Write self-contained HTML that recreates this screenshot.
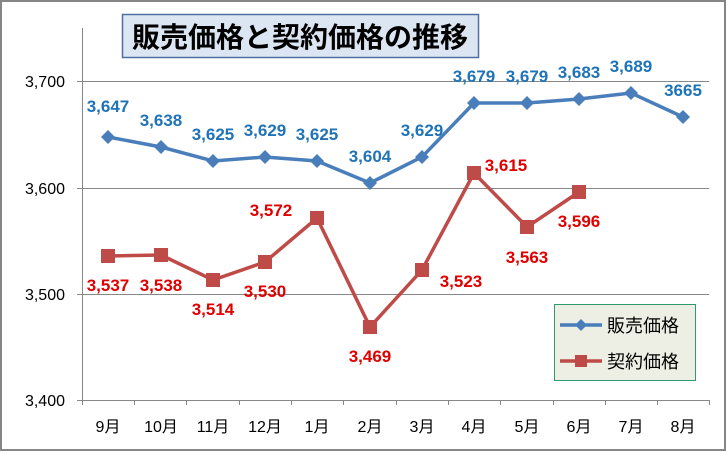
<!DOCTYPE html>
<html><head><meta charset="utf-8"><style>body{margin:0;background:#fff}svg{display:block}</style></head><body>
<svg width="727" height="452" xmlns="http://www.w3.org/2000/svg" font-family="Liberation Sans, Noto Sans CJK JP, sans-serif">
<rect x="1" y="1" width="724" height="449" fill="#fff" stroke="#868686" stroke-width="2"/>
<g stroke="#888" stroke-width="1">
<line x1="82" y1="81.5" x2="709" y2="81.5"/>
<line x1="82" y1="188.5" x2="709" y2="188.5"/>
<line x1="82" y1="294.5" x2="709" y2="294.5"/>
<line x1="82" y1="400.5" x2="709" y2="400.5"/>
<line x1="82.5" y1="28" x2="82.5" y2="400"/>
<line x1="77" y1="81.5" x2="82" y2="81.5"/><line x1="77" y1="188.5" x2="82" y2="188.5"/><line x1="77" y1="294.5" x2="82" y2="294.5"/><line x1="77" y1="400.5" x2="82" y2="400.5"/>
<path d="M134.5 400v5M186.5 400v5M239.5 400v5M291.5 400v5M343.5 400v5M396.5 400v5M448.5 400v5M500.5 400v5M553.5 400v5M605.5 400v5M657.5 400v5M709.5 400v5M82.5 400v5"/>
</g>
<g font-size="16" fill="#000" text-anchor="end">
<text x="65" y="87">3,700</text><text x="65" y="194">3,600</text><text x="65" y="300">3,500</text><text x="65" y="406">3,400</text>
</g>
<g font-size="16" fill="#000" text-anchor="middle">
<text x="108" y="432">9月</text><text x="161" y="432">10月</text><text x="213" y="432">11月</text><text x="265" y="432">12月</text><text x="317" y="432">1月</text><text x="370" y="432">2月</text><text x="422" y="432">3月</text><text x="474" y="432">4月</text><text x="527" y="432">5月</text><text x="579" y="432">6月</text><text x="631" y="432">7月</text><text x="683" y="432">8月</text>
</g>
<polyline fill="none" stroke="#4a7ebb" stroke-width="3.5" points="108,137 161,147 213,161 265,157 317,161 370,183 422,157 474,103 527,103 579,99 631,93 683,117"/>
<g fill="#4a7ebb">
<path d="M108 130l7 7-7 7-7-7z"/><path d="M161 140l7 7-7 7-7-7z"/><path d="M213 154l7 7-7 7-7-7z"/><path d="M265 150l7 7-7 7-7-7z"/><path d="M317 154l7 7-7 7-7-7z"/><path d="M370 176l7 7-7 7-7-7z"/><path d="M422 150l7 7-7 7-7-7z"/><path d="M474 96l7 7-7 7-7-7z"/><path d="M527 96l7 7-7 7-7-7z"/><path d="M579 92l7 7-7 7-7-7z"/><path d="M631 86l7 7-7 7-7-7z"/><path d="M683 110l7 7-7 7-7-7z"/>
</g>
<polyline fill="none" stroke="#be4b48" stroke-width="3.5" points="108,256 161,255 213,280 265,262 317,218 370,327 422,270 474,173 527,227 579,192"/>
<g fill="#be4b48">
<rect x="101" y="249" width="14" height="14"/><rect x="154" y="248" width="14" height="14"/><rect x="206" y="273" width="14" height="14"/><rect x="258" y="255" width="14" height="14"/><rect x="310" y="211" width="14" height="14"/><rect x="363" y="320" width="14" height="14"/><rect x="415" y="263" width="14" height="14"/><rect x="467" y="166" width="14" height="14"/><rect x="520" y="220" width="14" height="14"/><rect x="572" y="185" width="14" height="14"/>
</g>
<g font-size="17" font-weight="bold" fill="#1f73b7" text-anchor="middle">
<text x="108" y="112">3,647</text><text x="161" y="126">3,638</text><text x="213" y="140">3,625</text><text x="265" y="136">3,629</text><text x="317" y="140">3,625</text><text x="370" y="162">3,604</text><text x="422" y="136">3,629</text><text x="474" y="82">3,679</text><text x="527" y="82">3,679</text><text x="579" y="78">3,683</text><text x="631" y="72">3,689</text><text x="683" y="96">3665</text>
</g>
<g font-size="17" font-weight="bold" fill="#e00000" text-anchor="middle">
<text x="108" y="291">3,537</text><text x="161" y="291">3,538</text><text x="213" y="315">3,514</text><text x="265" y="297">3,530</text><text x="271" y="216">3,572</text><text x="370" y="362">3,469</text><text x="461" y="287">3,523</text><text x="506" y="171">3,615</text><text x="527" y="263">3,563</text><text x="579" y="227">3,596</text>
</g>
<rect x="122.5" y="14.5" width="356" height="43" fill="#dce6f2" stroke="#4f6fa0" stroke-width="1.5"/>
<text x="300" y="47" font-size="28" font-weight="bold" text-anchor="middle" fill="#000">販売価格と契約価格の推移</text>
<rect x="554.5" y="304.5" width="141" height="76" fill="#eeefe4" stroke="#2f9a70" stroke-width="1"/>
<line x1="560" y1="325" x2="602" y2="325" stroke="#4a7ebb" stroke-width="3.5"/><path d="M581 319l6 6-6 6-6-6z" fill="#4a7ebb"/>
<line x1="560" y1="361" x2="602" y2="361" stroke="#be4b48" stroke-width="3.5"/><rect x="575" y="355" width="12" height="12" fill="#be4b48"/>
<text x="607" y="332" font-size="18" fill="#000">販売価格</text>
<text x="607" y="368" font-size="18" fill="#000">契約価格</text>
</svg>
</body></html>
